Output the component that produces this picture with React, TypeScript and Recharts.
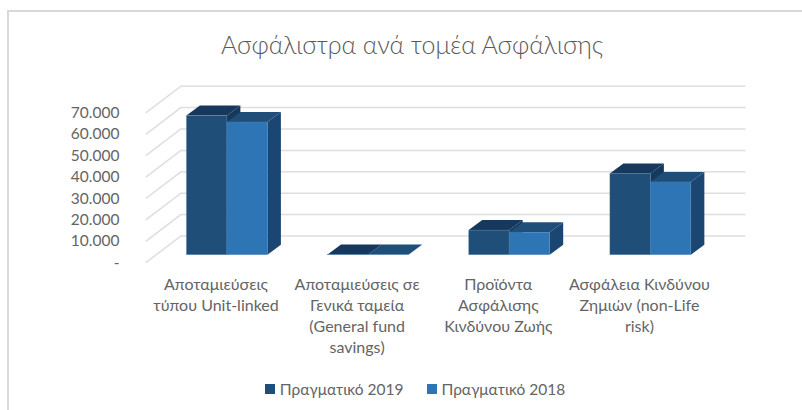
import React from 'react';
import { BarChart, Bar, XAxis, YAxis, CartesianGrid, Legend } from 'recharts';

const categories = [
  'Αποταμιεύσεις τύπου Unit-linked',
  'Αποταμιεύσεις σε Γενικά ταμεία (General fund savings)',
  'Προϊόντα Ασφάλισης Κινδύνου Ζωής',
  'Ασφάλεια Κινδύνου Ζημιών (non-Life risk)',
];
const categoryLines = [
  ['Αποταμιεύσεις', 'τύπου Unit-linked'],
  ['Αποταμιεύσεις σε', 'Γενικά ταμεία', '(General fund', 'savings)'],
  ['Προϊόντα', 'Ασφάλισης', 'Κινδύνου Ζωής'],
  ['Ασφάλεια Κινδύνου', 'Ζημιών (non-Life', 'risk)'],
];
const values2019 = [65000, 150, 11500, 38000];
const values2018 = [62000, 100, 10500, 34000];
const yTicks = [0, 10000, 20000, 30000, 40000, 50000, 60000, 70000];

const data = categories.map((name, i) => ({
  name,
  p2019: values2019[i],
  p2018: values2018[i],
}));

const FONT = 'Lato, "Open Sans", sans-serif';
const TEXT = '#646464';
const GRID = '#dedede';

// fake 3D: depth of the bars, and how far the floor reaches in front of / behind them
const DX = 13.5;
const DY = 10;
const FRONT_DX = 10.6;
const FRONT_DY = 8;
const BACK_DX = 24.5;
const BACK_DY = 18.7;

const box = (front: string, top: string, side: string) => (props: any) => {
  const { x, y, width, height } = props;
  const r = x + width;
  const b = y + height;
  return (
    <g>
      <polygon points={`${r},${y} ${r + DX},${y - DY} ${r + DX},${b - DY} ${r},${b}`} fill={side} />
      <polygon points={`${x},${y} ${x + DX},${y - DY} ${r + DX},${y - DY} ${r},${y}`} fill={top} />
      <rect x={x} y={y} width={width} height={height} fill={front} stroke="#5f8cb5" strokeOpacity={0.5} strokeWidth={0.6} />
    </g>
  );
};

const gridLine = (props: any) => {
  const { x1, x2, y1 } = props;
  return (
    <polyline
      points={`${x1 - FRONT_DX},${y1 + FRONT_DY} ${x1 + BACK_DX},${y1 - BACK_DY} ${x2 + BACK_DX},${y1 - BACK_DY}`}
      fill="none"
      stroke={GRID}
      strokeWidth={1.5}
    />
  );
};

const YTick = (props: any) => {
  const { x, y, payload } = props;
  const label = payload.value === 0 ? '-' : payload.value.toLocaleString('de-DE');
  return (
    <text x={x - 29} y={y + FRONT_DY + 5} textAnchor="end" fontSize={15.5} fontFamily={FONT} fill={TEXT}>
      {label}
    </text>
  );
};

const XTick = (props: any) => {
  const { x, payload } = props;
  const lines = categoryLines[payload.index];
  return (
    <text textAnchor="middle" fontSize={16} fontFamily={FONT} fill={TEXT}>
      {lines.map((line, i) => (
        <tspan key={line} x={x - 11} y={290 + i * 21}>
          {line}
        </tspan>
      ))}
    </text>
  );
};

const LegendRow = ({ payload }: any) => (
  <div style={{ display: 'flex', justifyContent: 'center', gap: 23, height: 0, paddingLeft: 28, fontFamily: FONT, fontSize: 15.5, color: TEXT }}>
    {(payload || []).map((item: any) => (
      <div key={item.value} style={{ display: 'flex', alignItems: 'center', gap: 5, height: 20 }}>
        <span style={{ width: 10, height: 10, background: item.color, display: 'inline-block' }} />
        {item.value}
      </div>
    ))}
  </div>
);

export default function App() {
  return (
    <div style={{ position: 'absolute', left: 0, top: 0, width: 802, height: 410, background: '#fff' }}>
      <div
        style={{
          position: 'absolute',
          left: 7,
          top: 10,
          width: 795,
          height: 400,
          boxSizing: 'border-box',
          borderTop: '2px solid #d9d9d9',
          borderLeft: '2px solid #d9d9d9',
        }}
      />
      <BarChart
        width={802}
        height={410}
        data={data}
        barGap={0}
        barSize={40.5}
        margin={{ top: 104.9, right: 81, bottom: 55.3, left: 0 }}
        style={{ position: 'absolute', left: 0, top: 0 }}
      >
        <text x={412} y={54} textAnchor="middle" fontSize={25} fontWeight={300} fontFamily={FONT} fill="#595959">
          Ασφάλιστρα ανά τομέα Ασφάλισης
        </text>
        <CartesianGrid vertical={false} horizontal={gridLine} />
        <XAxis dataKey="name" height={100} axisLine={false} tickLine={false} interval={0} tick={XTick} />
        <YAxis width={156.4} domain={[0, 70000]} ticks={yTicks} interval={0} axisLine={false} tickLine={false} tick={YTick} />
        <Legend content={<LegendRow />} itemSorter={null} wrapperStyle={{ position: 'absolute', left: 0, top: 379, width: 802, height: 0 }} />
        <Bar dataKey="p2019" name="Πραγματικό 2019" fill="#1f4e79" isAnimationActive={false} shape={box('#1f4e79', '#16385c', '#16385c')} />
        <Bar dataKey="p2018" name="Πραγματικό 2018" fill="#2e75b6" isAnimationActive={false} shape={box('#2e75b6', '#1f4e79', '#1c4672')} />
      </BarChart>
    </div>
  );
}
